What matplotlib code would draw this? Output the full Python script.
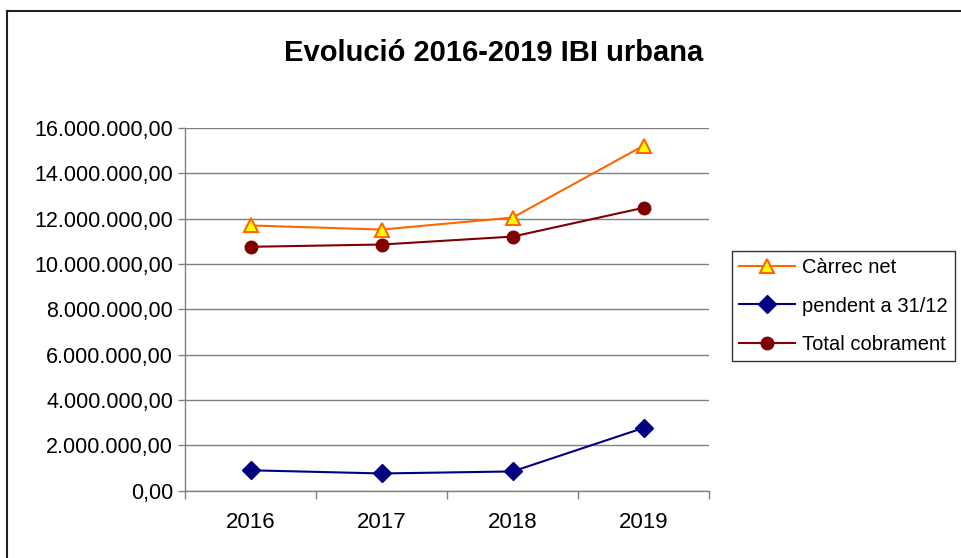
import matplotlib
matplotlib.use("Agg")
import matplotlib.pyplot as plt
from matplotlib.lines import Line2D
from matplotlib.ticker import FuncFormatter, FixedLocator

years = ["2016", "2017", "2018", "2019"]
carrec_net = [11700000, 11520000, 12050000, 15220000]
pendent = [900000, 760000, 850000, 2770000]
total_cobrament = [10760000, 10860000, 11210000, 12480000]
labels = ["Càrrec net", "pendent a 31/12", "Total cobrament"]
title = "Evolució 2016-2019 IBI urbana"

plt.rcParams['font.family'] = ['Liberation Sans', 'DejaVu Sans']

W, H = 962, 558
fig = plt.figure(figsize=(W / 100, H / 100), dpi=100)
ax = fig.add_axes([185.5 / W, 1 - 490.7 / H, (709 - 185.5) / W, (490.7 - 128) / H])

x = list(range(len(years)))
ax.plot(x, carrec_net, color='#FF6600', lw=1.5, marker='^', ms=10,
        mfc='#FFFF00', mec='#FF6600', mew=1.5, label=labels[0], zorder=3)
ax.plot(x, pendent, color='#000080', lw=1.5, marker='D', ms=9,
        mfc='#000080', mec='#000080', label=labels[1], zorder=3)
ax.plot(x, total_cobrament, color='#800000', lw=1.5, marker='o', ms=9,
        mfc='#800000', mec='#800000', label=labels[2], zorder=3)

ax.set_xlim(-0.5, len(years) - 0.5)
ax.set_ylim(0, 16000000)
ax.set_yticks(range(0, 16000001, 2000000))

def fmt(v, pos):
    s = f"{v:,.2f}"
    return s.replace(",", "X").replace(".", ",").replace("X", ".")
ax.yaxis.set_major_formatter(FuncFormatter(fmt))

ax.xaxis.set_major_locator(FixedLocator([i - 0.5 for i in range(len(years) + 1)]))
ax.xaxis.set_major_formatter(FuncFormatter(lambda v, p: ""))
ax.xaxis.set_minor_locator(FixedLocator(x))
ax.set_xticklabels(years, minor=True)
ax.tick_params(axis='x', which='minor', length=0, labelsize=16, pad=15)
ax.tick_params(axis='x', which='major', length=6, color='#808080', width=1)
ax.tick_params(axis='y', length=5, color='#808080', width=1, labelsize=15.5, pad=4)

ax.grid(axis='y', color='#808080', lw=1)
ax.set_axisbelow(True)
for s in ['top', 'right']:
    ax.spines[s].set_visible(False)
for s in ['left', 'bottom']:
    ax.spines[s].set_color('#808080')
    ax.spines[s].set_linewidth(1)

fig.text(494 / W, 1 - 53 / H, title, ha='center', va='center',
         fontsize=21, fontweight='bold')

leg = fig.legend(loc='center left', bbox_to_anchor=(732 / W, 1 - 306 / H),
                 fontsize=14.5, frameon=True, fancybox=False, edgecolor='black',
                 handlelength=2.8, handletextpad=0.35, labelspacing=0.95,
                 borderpad=0.35, borderaxespad=0)
leg.get_frame().set_linewidth(1)

fig.add_artist(Line2D([7.5 / W, 7.5 / W], [0, 1 - 10.5 / H], color='#222222', lw=1.5))
fig.add_artist(Line2D([7.5 / W, 1], [1 - 10.5 / H, 1 - 10.5 / H], color='#222222', lw=1.5))

fig.savefig("out.png", dpi=100)
